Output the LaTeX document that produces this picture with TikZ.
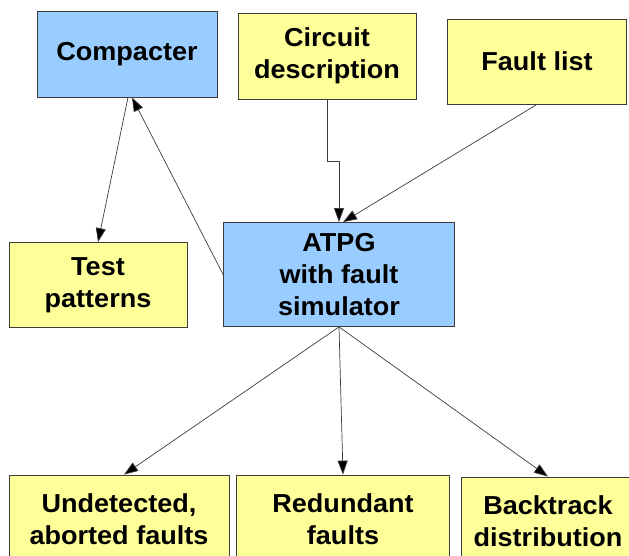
\documentclass[tikz,border=0pt]{standalone}
\usepackage{fontspec}
\setmainfont{Liberation Sans}[FakeStretch=1.04]
\usetikzlibrary{arrows.meta}
\definecolor{boxblue}{RGB}{153,204,255}
\definecolor{boxyellow}{RGB}{255,255,153}
\definecolor{edgegray}{RGB}{60,60,60}
\tikzset{
  box/.style={draw=edgegray, line width=0.8pt, align=center, inner sep=0pt,
    font=\fontsize{26}{32}\selectfont\bfseries},
  bluebox/.style={box, fill=boxblue},
  yellowbox/.style={box, fill=boxyellow},
  conn/.style={draw=edgegray, line width=0.7pt, -{Triangle[length=14pt,width=10pt,fill=black]}}
}
\begin{document}
\begin{tikzpicture}[x=1pt,y=-1pt]
\useasboundingbox (0,0) rectangle (629,556);
\clip (0,0) rectangle (629,556);
\node[bluebox, minimum width=180pt, minimum height=86pt] (comp) at (127,54) {Compacter};
\node[yellowbox, minimum width=178pt, minimum height=86pt] (circ) at (327,56) {Circuit\\description};
\node[yellowbox, minimum width=179pt, minimum height=85pt] (fault) at (537,61.5) {Fault list};
\node[bluebox, minimum width=231pt, minimum height=104pt] (atpg) at (339,274.5) {ATPG\\with fault\\simulator};
\node[yellowbox, minimum width=178pt, minimum height=85pt] (tp) at (98,285) {Test\\patterns};
\node[yellowbox, minimum width=220pt, minimum height=88pt] (und) at (119,519) {Undetected,\\aborted faults};
\node[yellowbox, minimum width=213pt, minimum height=88pt] (red) at (343,519) {Redundant\\faults};
\node[yellowbox, minimum width=174pt, minimum height=88pt] (back) at (548,521) {Backtrack\\distribution};
\coordinate (h161) at (0,161);
\coordinate (cb) at (atpg.north |- h161);
\draw[conn] ([xshift=1pt]comp.south) -- (tp.north);
\draw[conn] (atpg.west) -- ([xshift=5pt]comp.south);
\draw[conn] (circ.south) |- (cb) -- (atpg.north);
\draw[conn] (fault.south) -- ([xshift=4pt]atpg.north);
\draw[conn] (atpg.south) -- ([xshift=5pt]und.north);
\draw[conn] (atpg.south) -- (red.north);
\draw[conn] (atpg.south) -- (back.north);
\end{tikzpicture}
\end{document}
